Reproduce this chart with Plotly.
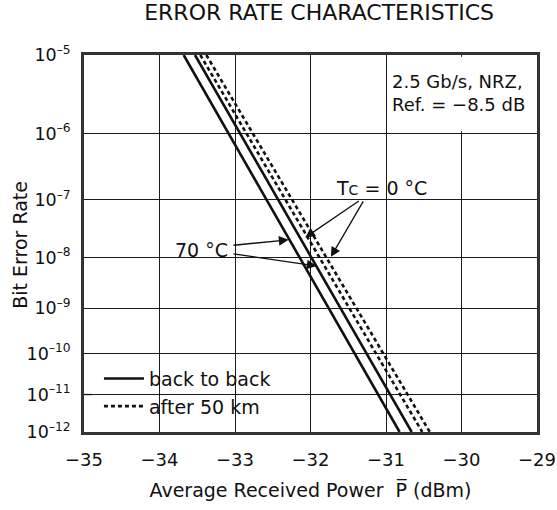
import numpy as np
import plotly.graph_objects as go

# ---- data -------------------------------------------------------------
# BER end points of each curve and the received power (dBm) at those points
ber_ends = [1e-5, 1e-12]
b2b_70c = [-33.68, -30.82]     # back to back, Tc = 70 degC
b2b_0c = [-33.53, -30.66]      # back to back, Tc = 0 degC
km50_70c = [-33.46, -30.52]    # after 50 km, Tc = 70 degC
km50_0c = [-33.38, -30.42]     # after 50 km, Tc = 0 degC

x_ticks = [-35, -34, -33, -32, -31, -30, -29]
ber_exponents = [5, 6, 7, 8, 9, 10, 11, 12]


def ber_axis(ber):
    """Position on the BER scale: -log10(-log10(BER))."""
    return -np.log10(-np.log10(np.asarray(ber, dtype=float)))


def exp_axis(e):
    """Same scale, from the positive decade exponent e of BER = 10^-e."""
    return -np.log10(e)


FONT = "DejaVu Sans"
BLACK = "#111111"

fig = go.Figure()

curves = [
    (b2b_70c, "solid", "back to back", True),
    (b2b_0c, "solid", "back to back", False),
    (km50_70c, "4px,3px", "after 50 km", True),
    (km50_0c, "4px,3px", "after 50 km", False),
]
for xs, dash, name, show in curves:
    fig.add_trace(go.Scatter(
        x=xs, y=ber_axis(ber_ends), mode="lines", name=name,
        showlegend=show, legendgroup=name,
        line=dict(color=BLACK, width=2.6, dash=dash),
        hoverinfo="skip",
    ))

# ---- arrows and labels ---------------------------------------------
arrows = [
    # (tail P, tail exponent, tip P, tip exponent)
    (-33.04, 7.78, -32.29, 7.68),
    (-33.04, 7.93, -31.92, 8.16),
    (-31.34, 7.00, -32.07, 7.64),
    (-31.29, 7.00, -31.73, 7.99),
]
annotations = []
for ax_, ay_, x_, y_ in arrows:
    annotations.append(dict(
        x=x_, y=exp_axis(y_), ax=ax_, ay=exp_axis(ay_),
        xref="x", yref="y", axref="x", ayref="y",
        text="", showarrow=True, arrowhead=2, arrowsize=1.5,
        arrowwidth=1.3, arrowcolor=BLACK, standoff=0, startstandoff=0,
    ))

annotations += [
    dict(x=-33.07, y=exp_axis(7.86), xref="x", yref="y", text="70 °C",
         showarrow=False, xanchor="right", yanchor="middle",
         font=dict(family=FONT, size=19, color=BLACK)),
    dict(x=-31.06, y=exp_axis(6.81), xref="x", yref="y",
         text="T<span style='font-size:14px'>C</span> = 0 °C",
         showarrow=False, xanchor="center", yanchor="middle",
         font=dict(family=FONT, size=19, color=BLACK)),
    dict(x=-30.95, y=exp_axis(5.46), xref="x", yref="y",
         text="2.5 Gb/s, NRZ,<br>Ref. = −8.5 dB",
         showarrow=False, xanchor="left", yanchor="middle", align="left",
         font=dict(family=FONT, size=18, color=BLACK)),
    # y-axis title
    dict(x=-0.141, y=0.497, xref="paper", yref="paper",
         text="Bit Error Rate", textangle=-90, showarrow=False,
         xanchor="center", yanchor="middle",
         font=dict(family=FONT, size=19, color=BLACK)),
]

shapes = [
    # white backing behind the legend (hides the grid there)
    dict(type="rect", xref="paper", yref="paper", x0=0.004, x1=0.4547,
         y0=0.024, y1=0.196, fillcolor="white", line=dict(width=0),
         layer="between"),
    # white backing of the condition box in the top-right cell
    dict(type="rect", xref="x", yref="y", x0=-30.985, x1=-29.01,
         y0=exp_axis(5.97), y1=exp_axis(5.02), fillcolor="white",
         line=dict(width=0), layer="between"),
    # short tick at 1e-11 on the left frame
    dict(type="line", xref="paper", yref="y", x0=0, x1=0.018,
         y0=exp_axis(11), y1=exp_axis(11),
         line=dict(color=BLACK, width=1.3), layer="above"),
]

axis_common = dict(
    showgrid=True, gridcolor="#1a1a1a", gridwidth=1.3,
    showline=True, mirror=True, linecolor="#333333", linewidth=2.8,
    zeroline=False, ticks="", automargin=False,
)

fig.update_layout(
    width=557, height=510,
    margin=dict(l=84, r=20, t=55, b=78, autoexpand=False),
    paper_bgcolor="white", plot_bgcolor="white",
    font=dict(family=FONT, size=18, color=BLACK),
    title=dict(text="ERROR RATE CHARACTERISTICS",
               x=0.519, xref="paper", xanchor="center",
               y=0.975, yref="container", yanchor="middle",
               font=dict(family=FONT, size=22, color=BLACK)),
    xaxis=dict(
        range=[-35, -29], tickvals=x_ticks,
        ticktext=[f"\u2212{abs(v)}" for v in x_ticks],
        ticklabelstandoff=9,
        tickfont=dict(family=FONT, size=18, color=BLACK),
        title=dict(text="Average Received Power\u00a0\u00a0P\u0305 (dBm)",
                   standoff=16,
                   font=dict(family=FONT, size=19, color=BLACK)),
        **axis_common,
    ),
    yaxis=dict(
        range=[exp_axis(12), exp_axis(5)],
        tickvals=[exp_axis(e) for e in ber_exponents],
        ticktext=[f"10<sup>\u2013{e}</sup>" for e in ber_exponents],
        ticklabelstandoff=7,
        tickfont=dict(family=FONT, size=17.5, color=BLACK),
        **axis_common,
    ),
    legend=dict(
        x=0.033, y=0.192, xanchor="left", yanchor="top",
        bgcolor="rgba(0,0,0,0)", borderwidth=0, itemwidth=40,
        font=dict(family=FONT, size=19, color=BLACK),
        tracegroupgap=0,
    ),
    annotations=annotations,
    shapes=shapes,
)

fig.write_html("out.html")
